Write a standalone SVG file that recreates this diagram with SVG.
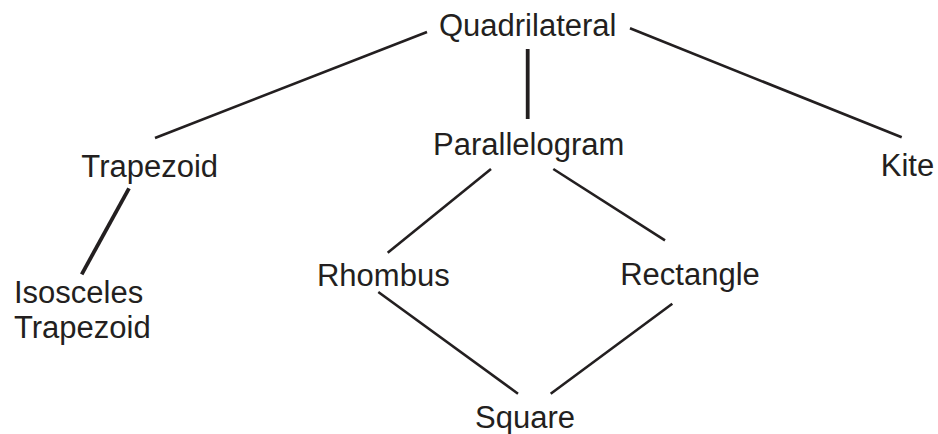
<svg xmlns="http://www.w3.org/2000/svg" width="938" height="434" viewBox="0 0 938 434">
<style>
  .lbl { font-family: "Liberation Sans", Arial, Helvetica, sans-serif; font-size: 31px; fill: #231f20; }
  .mid { text-anchor: middle; }
  .edge { stroke: #231f20; stroke-width: 2.6; fill: none; stroke-linecap: butt; }
  .thick { stroke-width: 3.8; }
</style>
<rect width="938" height="434" fill="#ffffff"/>
<g id="connectors">
  <line class="edge" x1="427" y1="32" x2="155" y2="138"/>
  <line class="edge thick" x1="527.7" y1="49" x2="527.7" y2="119"/>
  <line class="edge" x1="630" y1="28.3" x2="901.7" y2="137.3"/>
  <line class="edge thick" x1="129" y1="188.3" x2="81.7" y2="274.3"/>
  <line class="edge" x1="491" y1="169" x2="387.7" y2="252.7"/>
  <line class="edge" x1="553.3" y1="169" x2="665" y2="240.3"/>
  <line class="edge" x1="378.3" y1="292" x2="518" y2="393.7"/>
  <line class="edge" x1="672.3" y1="303.7" x2="550.7" y2="393.7"/>
</g>
<g id="node-quadrilateral"><text class="lbl mid" x="527.7" y="36">Quadrilateral</text></g>
<g id="node-trapezoid"><text class="lbl mid" x="149.7" y="177">Trapezoid</text></g>
<g id="node-parallelogram"><text class="lbl mid" x="528.7" y="155">Parallelogram</text></g>
<g id="node-kite"><text class="lbl mid" x="907.5" y="176">Kite</text></g>
<g id="node-isosceles-trapezoid">
  <text class="lbl" x="14" y="303">Isosceles</text>
  <text class="lbl" x="14" y="338">Trapezoid</text>
</g>
<g id="node-rhombus"><text class="lbl mid" x="383.3" y="286">Rhombus</text></g>
<g id="node-rectangle"><text class="lbl mid" x="690" y="285">Rectangle</text></g>
<g id="node-square"><text class="lbl mid" x="525" y="428">Square</text></g>
</svg>
